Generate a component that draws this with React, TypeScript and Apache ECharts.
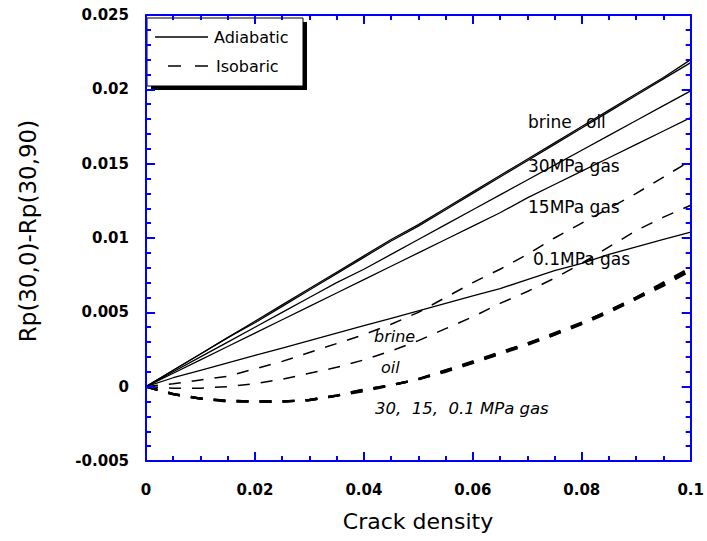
import React, { useEffect, useRef } from "react";
import * as echarts from "echarts";

// Crack density sample points (x)
const crackDensity = [
  0, 0.005, 0.01, 0.015, 0.02, 0.025, 0.03, 0.035, 0.04, 0.045, 0.05,
  0.055, 0.06, 0.065, 0.07, 0.075, 0.08, 0.085, 0.09, 0.095, 0.1,
];

// Adiabatic (solid)
const brineAdiabatic = [0, 0.0011, 0.0022, 0.0033, 0.0044, 0.0055, 0.0066, 0.0077, 0.0088, 0.0099, 0.0109, 0.012, 0.0131, 0.0142, 0.0153, 0.0164, 0.0175, 0.0186, 0.0197, 0.0208, 0.022];
const oilAdiabatic = [0, 0.0011, 0.0022, 0.0033, 0.0043, 0.0054, 0.0065, 0.0076, 0.0087, 0.0098, 0.0108, 0.0119, 0.013, 0.0141, 0.0152, 0.0163, 0.0174, 0.0185, 0.0196, 0.0207, 0.0218];
const gas30Adiabatic = [0, 0.001, 0.002, 0.003, 0.004, 0.005, 0.006, 0.007, 0.0079, 0.0089, 0.0099, 0.0109, 0.0119, 0.0129, 0.0139, 0.0149, 0.0159, 0.0169, 0.0179, 0.0189, 0.0199];
const gas15Adiabatic = [0, 0.0009, 0.0018, 0.0027, 0.0036, 0.0045, 0.0054, 0.0063, 0.0072, 0.0081, 0.009, 0.0099, 0.0108, 0.0117, 0.0127, 0.0136, 0.0145, 0.0154, 0.0163, 0.0172, 0.0181];
const gas01Adiabatic = [0, 0.0006, 0.0011, 0.0016, 0.0021, 0.0026, 0.0031, 0.0036, 0.0041, 0.0046, 0.0051, 0.0056, 0.0061, 0.0066, 0.0072, 0.0078, 0.0083, 0.0089, 0.0094, 0.0099, 0.0104];

// Isobaric (dashed)
const brineIsobaric = [0, 0.0002, 0.00045, 0.0007, 0.0012, 0.0017, 0.0023, 0.0029, 0.0035, 0.0042, 0.005, 0.006, 0.007, 0.0079, 0.0089, 0.01, 0.011, 0.012, 0.013, 0.0141, 0.0152];
const oilIsobaric = [0, -0.0001, -0.0001, 0, 0.0002, 0.0005, 0.0009, 0.0013, 0.0018, 0.0024, 0.0031, 0.0039, 0.0047, 0.0056, 0.0064, 0.0073, 0.0083, 0.0094, 0.0105, 0.0114, 0.0122];
const gas30Isobaric = [0, -0.0005, -0.0008, -0.00095, -0.001, -0.001, -0.0009, -0.0006, -0.0002, 0.0001, 0.0005, 0.0011, 0.0016, 0.0023, 0.0029, 0.0035, 0.0043, 0.0051, 0.006, 0.0069, 0.0079];
const gas15Isobaric = [0, -0.0005, -0.0008, -0.00095, -0.001, -0.001, -0.0009, -0.0006, -0.0002, 0.0001, 0.0005, 0.0011, 0.0017, 0.0023, 0.0029, 0.0036, 0.0043, 0.0051, 0.006, 0.007, 0.008];
const gas01Isobaric = [0, -0.0005, -0.0008, -0.001, -0.001, -0.001, -0.0009, -0.0006, -0.0003, 0.0001, 0.0005, 0.001, 0.0016, 0.0022, 0.0028, 0.0035, 0.0042, 0.005, 0.0059, 0.0068, 0.0078];

const xTickLabels = ["0", "0.02", "0.04", "0.06", "0.08", "0.1"];
const yTickLabels = ["-0.005", "0", "0.005", "0.01", "0.015", "0.02", "0.025"];

const FONT = "DejaVu Sans";
const BLUE = "#0000ff";

function pairs(ys: number[]) {
  return ys.map((y, i) => [crackDensity[i], y]);
}

export default function App() {
  const ref = useRef<HTMLDivElement>(null);
  useEffect(() => {
    if (!ref.current) return;
    const chart = echarts.init(ref.current, null, { renderer: "svg" });

    const solid = (name: string, ys: number[]) => ({
      name,
      type: "line",
      data: pairs(ys),
      showSymbol: false,
      symbol: "none",
      lineStyle: { color: "#000", width: 1.3, type: "solid" },
      z: 3,
    });
    const dashed = (name: string, ys: number[], w: number) => ({
      name,
      type: "line",
      data: pairs(ys),
      showSymbol: false,
      symbol: "none",
      lineStyle: { color: "#000", width: w, type: [12, 11] },
      z: 3,
    });

    const axisCommon = {
      type: "value",
      z: 10,
      axisLine: { show: true, onZero: false, lineStyle: { color: BLUE, width: 2 } },
      axisTick: { show: true, inside: true, length: 9, lineStyle: { color: BLUE, width: 2 } },
      minorTick: { show: true, length: 5, lineStyle: { color: BLUE, width: 2 } },
      splitLine: { show: false },
      minorSplitLine: { show: false },
    };

    const xLabelFmt = (v: number) => {
      const idx = Math.round(v / 0.02);
      return xTickLabels[idx] ?? "";
    };
    const yLabelFmt = (v: number) => {
      const idx = Math.round((v + 0.005) / 0.005);
      return yTickLabels[idx] ?? "";
    };

    chart.setOption({
      animation: false,
      backgroundColor: "#fff",
      grid: { left: 146, top: 15, width: 545, height: 446, containLabel: false },
      xAxis: [
        {
          ...axisCommon,
          position: "bottom",
          min: 0,
          max: 0.1,
          interval: 0.02,
          minorTick: { ...axisCommon.minorTick, splitNumber: 4 },
          axisLabel: {
            show: true,
            margin: 21,
            color: "#000",
            fontFamily: FONT,
            fontWeight: "bold",
            fontSize: 15,
            formatter: xLabelFmt,
          },
        },
        {
          ...axisCommon,
          position: "top",
          min: 0,
          max: 0.1,
          interval: 0.02,
          minorTick: { ...axisCommon.minorTick, splitNumber: 4 },
          axisLabel: { show: false },
        },
      ],
      yAxis: [
        {
          ...axisCommon,
          position: "left",
          min: -0.005,
          max: 0.025,
          interval: 0.005,
          minorTick: { ...axisCommon.minorTick, splitNumber: 5 },
          axisLabel: {
            show: true,
            margin: 17,
            color: "#000",
            fontFamily: FONT,
            fontWeight: "bold",
            fontSize: 15,
            formatter: yLabelFmt,
          },
        },
        {
          ...axisCommon,
          position: "right",
          min: -0.005,
          max: 0.025,
          interval: 0.005,
          minorTick: { ...axisCommon.minorTick, splitNumber: 5 },
          axisLabel: { show: false },
        },
      ],
      series: [
        solid("brine adiabatic", brineAdiabatic),
        solid("oil adiabatic", oilAdiabatic),
        solid("30MPa gas adiabatic", gas30Adiabatic),
        solid("15MPa gas adiabatic", gas15Adiabatic),
        solid("0.1MPa gas adiabatic", gas01Adiabatic),
        dashed("brine isobaric", brineIsobaric, 1.5),
        dashed("oil isobaric", oilIsobaric, 1.5),
        dashed("30MPa gas isobaric", gas30Isobaric, 2.4),
        dashed("15MPa gas isobaric", gas15Isobaric, 2.4),
        dashed("0.1MPa gas isobaric", gas01Isobaric, 2.4),
      ],
      graphic: [
        // axis titles
        {
          type: "text",
          x: 418,
          y: 521,
          style: { text: "Crack density", font: `22px '${FONT}'`, fill: "#000", align: "center", verticalAlign: "middle" },
        },
        {
          type: "text",
          x: 28,
          y: 231,
          rotation: Math.PI / 2,
          style: { text: "Rp(30,0)-Rp(30,90)", font: `23px '${FONT}'`, fill: "#000", align: "center", verticalAlign: "middle" },
        },
        // legend box
        { type: "rect", z: 5, shape: { x: 151, y: 22, width: 156, height: 68 }, style: { fill: "#000" } },
        { type: "rect", z: 5, shape: { x: 147, y: 18, width: 156, height: 68 }, style: { fill: "#fff", stroke: "#000", lineWidth: 1 } },
        { type: "line", z: 6, shape: { x1: 155, y1: 37, x2: 208, y2: 37 }, style: { stroke: "#000", lineWidth: 1.3 } },
        { type: "line", z: 6, shape: { x1: 168, y1: 66, x2: 208, y2: 66 }, style: { stroke: "#000", lineWidth: 1.5, lineDash: [13, 14] } },
        { type: "text", z: 6, x: 214, y: 37, style: { text: "Adiabatic", font: `16px '${FONT}'`, fill: "#000", verticalAlign: "middle" } },
        { type: "text", z: 6, x: 216, y: 66, style: { text: "Isobaric", font: `16px '${FONT}'`, fill: "#000", verticalAlign: "middle" } },
        // curve annotations
        { type: "text", z: 6, x: 528, y: 122, style: { text: "brine", font: `17px '${FONT}'`, fill: "#000", verticalAlign: "middle" } },
        { type: "text", z: 6, x: 586, y: 122, style: { text: "oil", font: `17px '${FONT}'`, fill: "#000", verticalAlign: "middle" } },
        { type: "text", z: 6, x: 528, y: 166, style: { text: "30MPa gas", font: `17px '${FONT}'`, fill: "#000", verticalAlign: "middle" } },
        { type: "text", z: 6, x: 528, y: 207, style: { text: "15MPa gas", font: `17px '${FONT}'`, fill: "#000", verticalAlign: "middle" } },
        { type: "text", z: 6, x: 533, y: 259, style: { text: "0.1MPa gas", font: `17px '${FONT}'`, fill: "#000", verticalAlign: "middle" } },
        { type: "text", z: 6, x: 374, y: 336, style: { text: "brine", font: `italic 16px '${FONT}'`, fill: "#000", verticalAlign: "middle" } },
        { type: "text", z: 6, x: 381, y: 367, style: { text: "oil", font: `italic 16px '${FONT}'`, fill: "#000", verticalAlign: "middle" } },
        { type: "text", z: 6, x: 375, y: 408, style: { text: "30,  15,  0.1 MPa gas", font: `italic 16.5px '${FONT}'`, fill: "#000", verticalAlign: "middle" } },
      ],
    });
    return () => chart.dispose();
  }, []);
  return (
    <div
      ref={ref}
      style={{ position: "fixed", left: 0, top: 0, width: 707, height: 541, background: "#fff" }}
    />
  );
}
